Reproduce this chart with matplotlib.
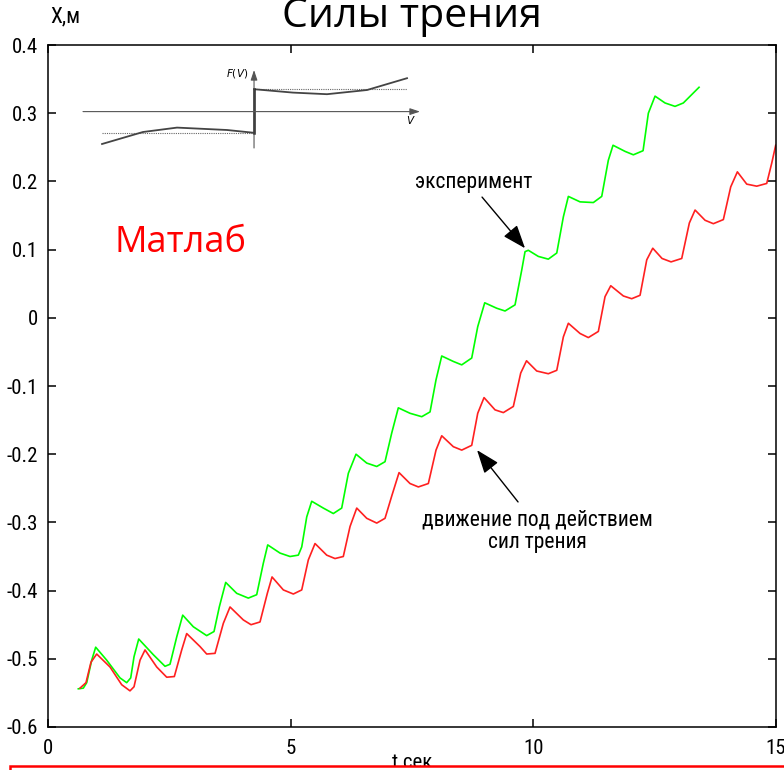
"""
Силы трения: experiment vs friction model (Matlab-style plot)
"""
import matplotlib
matplotlib.use('Agg')
import matplotlib.pyplot as plt
from matplotlib import font_manager
from matplotlib.patches import Rectangle

# Narrow font for the Matlab-looking texts, if there is one
names = {f.name for f in font_manager.fontManager.ttflist}
narrow = 'DejaVu Sans'
for cand in ['Liberation Sans Narrow', 'Roboto Condensed', 'Open Sans Condensed']:
    if cand in names:
        narrow = cand
        break
slide = 'Open Sans'

plt.rcParams['axes.unicode_minus'] = False

# Experiment (green)
t_exp = [0.625, 0.728, 0.798, 0.901, 0.983, 1.210, 1.484, 1.622, 1.705, 1.773,
         1.870, 2.171, 2.412, 2.515, 2.653, 2.777, 2.995, 3.271, 3.422, 3.531,
         3.663, 3.890, 4.129, 4.302, 4.438, 4.529, 4.783, 4.989, 5.160, 5.230,
         5.333, 5.436, 5.675, 5.881, 6.054, 6.191, 6.349, 6.570, 6.776, 6.947,
         7.085, 7.221, 7.462, 7.704, 7.875, 7.998, 8.116, 8.355, 8.528, 8.734,
         8.858, 9.002, 9.250, 9.421, 9.627, 9.765, 9.833, 9.901, 10.107, 10.313,
         10.487, 10.623, 10.726, 10.967, 11.241, 11.414, 11.550, 11.647, 11.895, 12.066,
         12.266, 12.375, 12.513, 12.719, 12.925, 13.096, 13.420]
x_exp = [-0.544, -0.543, -0.535, -0.502, -0.483, -0.502, -0.528, -0.535, -0.528, -0.497,
         -0.471, -0.494, -0.511, -0.508, -0.468, -0.436, -0.453, -0.466, -0.460, -0.424,
         -0.388, -0.404, -0.411, -0.406, -0.360, -0.333, -0.345, -0.350, -0.348, -0.336,
         -0.292, -0.269, -0.279, -0.287, -0.279, -0.228, -0.200, -0.213, -0.218, -0.211,
         -0.169, -0.132, -0.140, -0.145, -0.138, -0.091, -0.056, -0.064, -0.069, -0.059,
         -0.013, 0.022, 0.014, 0.010, 0.019, 0.070, 0.097, 0.099, 0.090, 0.086,
         0.095, 0.148, 0.178, 0.170, 0.169, 0.178, 0.231, 0.253, 0.244, 0.239,
         0.245, 0.300, 0.325, 0.315, 0.310, 0.315, 0.338]

# Model: motion under friction forces (red)
t_mod = [0.660, 0.783, 0.886, 1.004, 1.278, 1.519, 1.690, 1.773, 1.897, 2.000,
         2.241, 2.447, 2.604, 2.756, 2.859, 3.133, 3.271, 3.443, 3.614, 3.752,
         4.026, 4.185, 4.370, 4.521, 4.618, 4.851, 5.057, 5.230, 5.366, 5.504,
         5.745, 5.916, 6.087, 6.226, 6.364, 6.570, 6.776, 6.947, 7.091, 7.236,
         7.462, 7.634, 7.840, 7.998, 8.116, 8.355, 8.528, 8.734, 8.858, 8.988,
         9.215, 9.386, 9.592, 9.744, 9.864, 10.074, 10.313, 10.487, 10.623, 10.726,
         10.967, 11.138, 11.344, 11.482, 11.600, 11.860, 12.032, 12.204, 12.342, 12.466,
         12.657, 12.843, 13.063, 13.220, 13.338, 13.544, 13.715, 13.921, 14.073, 14.210,
         14.403, 14.609, 14.815, 14.919, 15.0]
x_mod = [-0.543, -0.535, -0.505, -0.493, -0.512, -0.538, -0.547, -0.541, -0.502, -0.487,
         -0.512, -0.527, -0.526, -0.487, -0.463, -0.482, -0.493, -0.492, -0.448, -0.424,
         -0.443, -0.450, -0.446, -0.404, -0.380, -0.399, -0.405, -0.399, -0.355, -0.331,
         -0.348, -0.353, -0.350, -0.306, -0.279, -0.294, -0.301, -0.294, -0.260, -0.227,
         -0.243, -0.248, -0.243, -0.194, -0.173, -0.189, -0.194, -0.187, -0.140, -0.117,
         -0.135, -0.139, -0.130, -0.081, -0.063, -0.078, -0.082, -0.077, -0.028, -0.008,
         -0.023, -0.029, -0.020, 0.031, 0.047, 0.032, 0.028, 0.033, 0.085, 0.102,
         0.087, 0.082, 0.087, 0.139, 0.158, 0.143, 0.138, 0.144, 0.192, 0.214,
         0.196, 0.193, 0.197, 0.227, 0.253]

# Ticks
xticks = [0, 5, 10, 15]
yticks = [0.4, 0.3, 0.2, 0.1, 0, -0.1, -0.2, -0.3, -0.4, -0.5, -0.6]
ytick_labels = ['0.4', '0.3', '0.2', '0.1', '0', '-0.1', '-0.2', '-0.3', '-0.4', '-0.5', '-0.6']

# Inset sketch of F(V)
v_left = [-0.902, -0.659, -0.457, -0.160, 0.0]
f_left = [-0.81, -0.51, -0.40, -0.46, -0.53]
v_right = [0.0, 0.231, 0.433, 0.671, 0.908]
f_right = [0.56, 0.475, 0.435, 0.54, 0.835]

fig = plt.figure(figsize=(7.84, 7.70), dpi=100)
ax = fig.add_axes([48/784, 1 - 727/770, 727.7/784, 682/770])

ax.plot(t_exp, x_exp, color='#00ff00', lw=1.2, solid_joinstyle='round')
ax.plot(t_mod, x_mod, color='#ff2020', lw=1.2, solid_joinstyle='round')

ax.set_xlim(0, 15)
ax.set_ylim(-0.6, 0.4)
ax.set_xticks(xticks)
ax.set_xticklabels([str(v) for v in xticks])
ax.set_yticks(yticks)
ax.set_yticklabels(ytick_labels)
ax.tick_params(direction='in', length=6, width=1.1, top=True, right=True,
               labelsize=15)
ax.tick_params(axis='y', pad=7)
ax.tick_params(axis='x', pad=9)
for lbl in ax.get_xticklabels() + ax.get_yticklabels():
    lbl.set_family([narrow, 'DejaVu Sans'])
    lbl.set_stretch('condensed')
for s in ax.spines.values():
    s.set_linewidth(1.1)

# Annotations
arrow = dict(arrowstyle='-|>,head_length=0.8,head_width=0.3', color='black',
             lw=1, mutation_scale=18, shrinkA=0, shrinkB=0)
ax.annotate('', xy=(9.833, 0.102), xytext=(8.947, 0.177), arrowprops=arrow)
ax.text(8.77, 0.198, 'эксперимент', ha='center', va='center', fontsize=15.5,
        family=[narrow, 'DejaVu Sans'], stretch='condensed')
ax.annotate('', xy=(8.844, -0.194), xytext=(9.689, -0.270), arrowprops=arrow)
ax.text(10.08, -0.313, 'движение под действием\nсил трения', ha='center', va='center',
        fontsize=15.5, linespacing=1.15, family=[narrow, 'DejaVu Sans'], stretch='condensed')

# Inset
ins = fig.add_axes([83/784, 1 - 150/770, 337/784, 82/770])
ins.set_xlim(-1.015, 0.985)
ins.set_ylim(-0.96, 1.09)
ins.axis('off')
head = dict(arrowstyle='-|>,head_length=0.6,head_width=0.2', color='#555555',
            lw=0.8, mutation_scale=10, shrinkA=0, shrinkB=0)
ins.annotate('', xy=(0.985, 0), xytext=(-1.015, 0), arrowprops=head)
ins.annotate('', xy=(0, 1.04), xytext=(0, -0.91), arrowprops=head)
ins.plot([-0.902, 0], [-0.53, -0.53], ls=(0, (1, 1)), color='#666666', lw=0.8)
ins.plot([0, 0.908], [0.56, 0.56], ls=(0, (1, 1)), color='#666666', lw=0.8)
ins.plot(v_left, f_left, color='#444444', lw=1.3)
ins.plot(v_right, f_right, color='#444444', lw=1.3)
ins.plot([0, 0], [f_left[-1], f_right[0]], color='#222222', lw=1.8)
ins.text(-0.1, 0.95, '$F(V)$', ha='center', va='center', fontsize=7.5)
ins.text(0.93, -0.2, '$V$', ha='center', va='center', fontsize=7.5)

# Slide texts
fig.text(412/784, 1 - 27/770, 'Силы трения', ha='center', va='baseline',
         fontsize=29.5, family=slide)
fig.text(181/784, 1 - 243/770, 'Матлаб', ha='center', va='center',
         fontsize=26, color='#ff0000', family=slide)
fig.text(50/784, 1 - 17/770, 'X,м', ha='left', va='center', fontsize=15.5,
         family=[narrow, 'DejaVu Sans'], stretch='condensed')
fig.text(412/784, 1 - 762/770, 't сек', ha='center', va='center', fontsize=15,
         family=[narrow, 'DejaVu Sans'], stretch='condensed')

# Red frame at the bottom, hides the lower half of the axis label
fig.patches.append(Rectangle((10/784, -0.02), 1.0, 0.0252, transform=fig.transFigure,
                             facecolor='white', edgecolor='#ff0000', lw=1.8,
                             zorder=10, clip_on=False))

fig.savefig('out.png', dpi=100)
